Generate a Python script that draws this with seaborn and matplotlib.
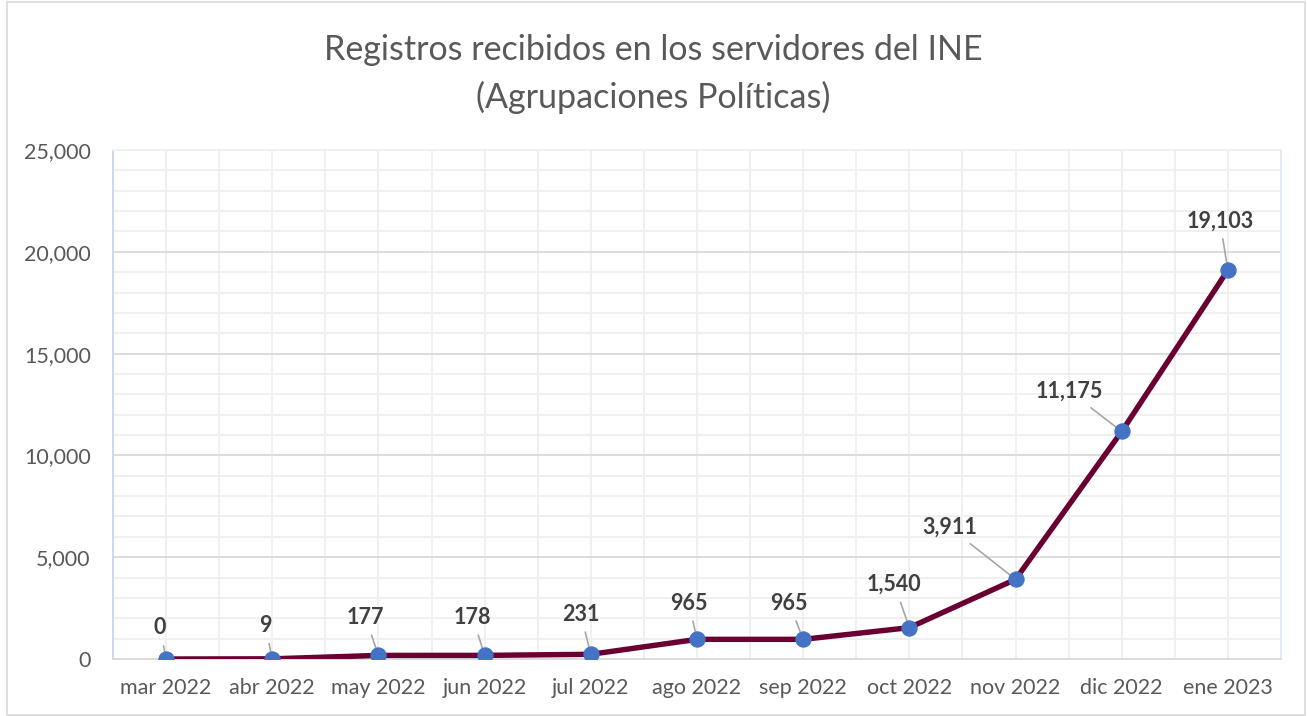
import matplotlib
matplotlib.use("Agg")
import matplotlib.pyplot as plt
import seaborn as sns
import pandas as pd
import numpy as np
from matplotlib.patches import Rectangle
from matplotlib.ticker import FuncFormatter, MultipleLocator

months = ["mar 2022", "abr 2022", "may 2022", "jun 2022", "jul 2022", "ago 2022",
          "sep 2022", "oct 2022", "nov 2022", "dic 2022", "ene 2023"]
registros = [0, 9, 177, 178, 231, 965, 965, 1540, 3911, 11175, 19103]
label_offsets = [(-6, 31), (-7, 33), (-13, 38), (-12, 38), (-10, 40), (-8, 36),
                 (-14, 36), (-15, 43), (-66, 52), (-52, 40), (-8, 49)]

sns.set_theme(style="white")
plt.rcParams['font.family'] = ['Lato', 'DejaVu Sans']

df = pd.DataFrame({"pos": np.arange(len(months)), "registros": registros})

fig = plt.figure(figsize=(13.07, 7.16), dpi=100)
ax = fig.add_axes([113/1307, 57/716, (1281-113)/1307, (659-150)/716])

sns.lineplot(data=df, x="pos", y="registros", ax=ax, color="#6a0032", linewidth=3.9,
             marker="o", markersize=11, markerfacecolor="#4472c4",
             markeredgecolor="#4472c4", zorder=4)

ax.set_xlim(-0.5, len(months) - 0.5)
ax.set_ylim(0, 25000)
ax.set_xticks(df["pos"])
ax.set_xticklabels(months)
ax.yaxis.set_major_locator(MultipleLocator(5000))
ax.yaxis.set_minor_locator(MultipleLocator(1000))
ax.xaxis.set_minor_locator(MultipleLocator(0.5))
ax.yaxis.set_major_formatter(FuncFormatter(lambda v, p: f"{int(v):,}"))
ax.set_xlabel("")
ax.set_ylabel("")
ax.tick_params(axis="both", which="both", length=0, labelsize=15.5, colors="#595959")
ax.tick_params(axis="x", pad=14)
ax.tick_params(axis="y", pad=16)

ax.grid(True, which="major", axis="y", color="#d9d9d9", linewidth=1.3, zorder=0)
ax.grid(True, which="minor", axis="y", color="#efefef", linewidth=1.3, zorder=0)
ax.grid(True, which="both", axis="x", color="#efefef", linewidth=1.3, zorder=0)
ax.set_axisbelow(True)

ax.spines["left"].set_color("#c9d6ee")
ax.spines["bottom"].set_color("#d9d9d9")
ax.spines["top"].set_color("#eef1f8")
ax.spines["right"].set_color("#e3e9f5")
for s in ax.spines.values():
    s.set_linewidth(1.3)

for x, y, (dx, dy) in zip(df["pos"], registros, label_offsets):
    ax.annotate(f"{y:,}", xy=(x, y), xytext=(dx, dy), textcoords="offset pixels",
                ha="center", va="center", fontsize=15.5, fontweight="bold", color="#404040",
                arrowprops=dict(arrowstyle="-", color="#a6a6a6", lw=1.2,
                                shrinkA=3, shrinkB=0),
                zorder=3)

fig.text(0.5, 1 - 50/716, "Registros recibidos en los servidores del INE",
         ha="center", va="center", fontsize=24.5, color="#595959")
fig.text(0.5, 1 - 97/716, "(Agrupaciones Políticas)",
         ha="center", va="center", fontsize=24.5, color="#595959")

fig.patches.append(Rectangle((7/1307, 0.002), 1 - 9/1307, 0.995, transform=fig.transFigure,
                             fill=False, edgecolor="#d9d9d9", linewidth=1.2))

fig.savefig("out.png", dpi=100)
